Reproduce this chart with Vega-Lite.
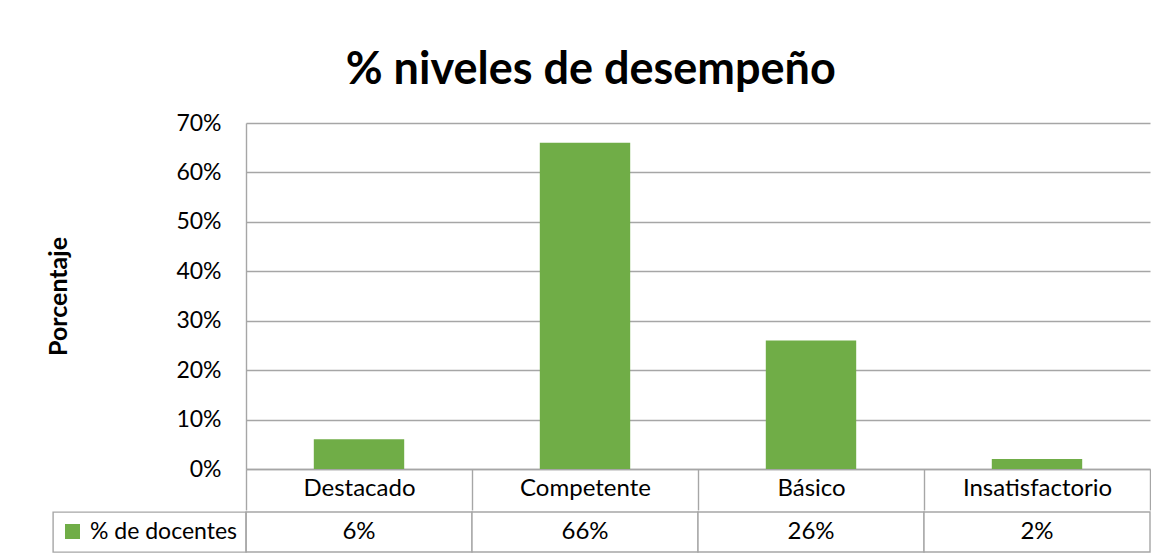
{
  "$schema": "https://vega.github.io/schema/vega-lite/v6.json",
  "padding": {"left": 46, "top": 48, "right": 0, "bottom": 0},
  "background": "white",
  "data": {"values": [
    {"nivel": "Destacado", "pct": 0.06},
    {"nivel": "Competente", "pct": 0.66},
    {"nivel": "Básico", "pct": 0.26},
    {"nivel": "Insatisfactorio", "pct": 0.02}
  ]},
  "title": {"text": "% niveles de desempeño", "font": "Lato", "fontSize": 45, "fontWeight": "bold", "color": "#000000", "anchor": "middle", "offset": 19, "dx": -8},
  "spacing": 0,
  "resolve": {"legend": {"color": "independent"}, "scale": {"color": "independent"}},
  "vconcat": [
    {
      "width": 904,
      "height": 346,
      "mark": {"type": "bar", "color": "#70ad47", "width": {"band": 0.4}},
      "encoding": {
        "x": {"field": "nivel", "type": "nominal", "sort": null,
          "scale": {"paddingInner": 0, "paddingOuter": 0},
          "axis": {"title": null, "labelAngle": 0, "labelFont": "Lato", "labelFontSize": 24, "labelColor": "#000000",
            "tickBand": "extent", "tickExtra": true, "tickSize": 41, "tickColor": "#a6a6a6", "tickWidth": 1.4,
            "domainColor": "#a6a6a6", "domainWidth": 1.4, "labelPadding": -34, "labelBaseline": "top"}},
        "y": {"field": "pct", "type": "quantitative",
          "scale": {"domain": [0, 0.7], "nice": false},
          "axis": {"title": "Porcentaje", "values": [0, 0.1, 0.2, 0.3, 0.4, 0.5, 0.6, 0.7], "format": ".0%",
            "ticks": false, "labelPadding": 25, "labelFont": "Lato", "labelFontSize": 23, "labelColor": "#000000",
            "grid": true, "gridColor": "#a6a6a6", "gridWidth": 1.4, "domainColor": "#a6a6a6", "domainWidth": 1.4,
            "titleFont": "Lato", "titleFontSize": 25, "titleFontWeight": "bold", "titleColor": "#000000", "titlePadding": 104}}
      }
    },
    {
      "width": 904,
      "height": 40,
      "layer": [
        {
          "mark": {"type": "rect", "fill": "white", "stroke": "#a6a6a6", "strokeWidth": 1.4},
          "encoding": {
            "x": {"field": "nivel", "type": "nominal", "sort": null, "scale": {"paddingInner": 0, "paddingOuter": 0}, "axis": null}
          }
        },
        {
          "mark": {"type": "text", "font": "Lato", "fontSize": 24, "color": "#000000"},
          "encoding": {
            "x": {"field": "nivel", "type": "nominal", "sort": null, "axis": null},
            "text": {"field": "pct", "type": "quantitative", "format": ".0%"}
          }
        },
        {
          "mark": {"type": "square", "opacity": 0, "filled": true},
          "encoding": {
            "x": {"field": "nivel", "type": "nominal", "sort": null, "axis": null},
            "color": {"datum": "% de docentes", "type": "nominal", "scale": {"range": ["#70ad47"]},
              "legend": {"title": null, "orient": "left", "offset": 0, "symbolType": "square", "symbolSize": 225,
                "symbolOpacity": 1, "symbolStrokeWidth": 0, "labelFont": "Lato", "labelFontSize": 23, "labelColor": "#000000",
                "strokeColor": "#a6a6a6", "padding": 8, "labelOffset": 6}}
          }
        }
      ]
    }
  ],
  "config": {"view": {"stroke": null}, "legend": {"strokeWidth": 1.4}}
}
